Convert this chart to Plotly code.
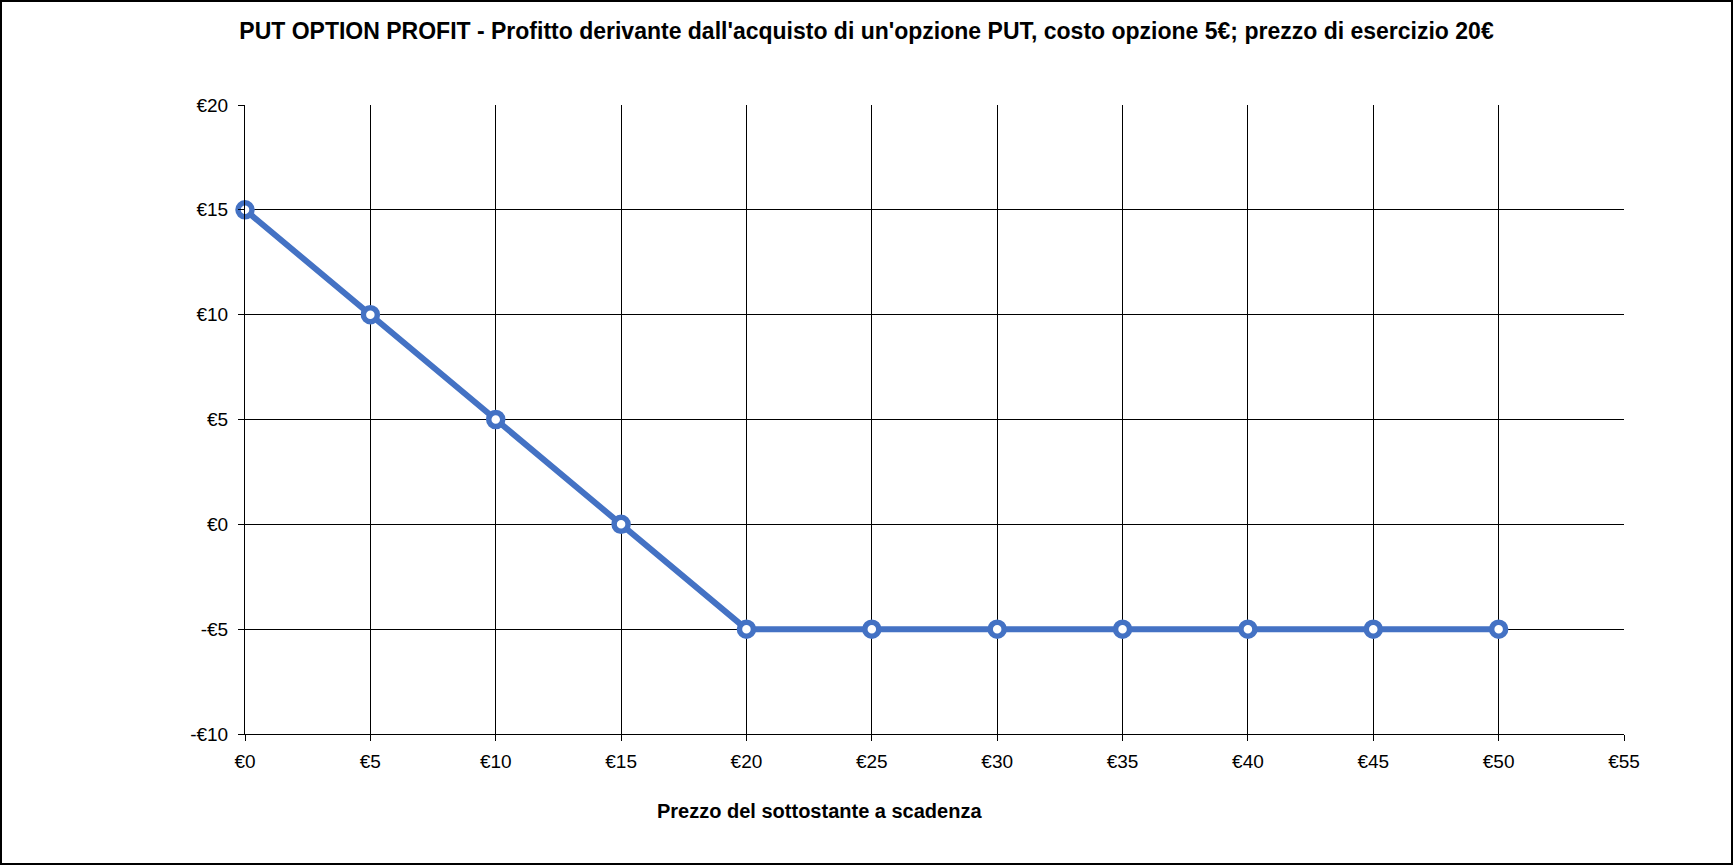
import plotly.graph_objects as go

# prezzo del sottostante a scadenza (euro)
prezzi = [0, 5, 10, 15, 20, 25, 30, 35, 40, 45, 50]
# profitto dell'opzione put
profitto = [15, 10, 5, 0, -5, -5, -5, -5, -5, -5, -5]

x_ticks = [0, 5, 10, 15, 20, 25, 30, 35, 40, 45, 50, 55]
x_labels = ['€0', '€5', '€10', '€15', '€20', '€25', '€30', '€35', '€40', '€45', '€50', '€55']
y_ticks = [-10, -5, 0, 5, 10, 15, 20]
y_labels = ['-€10', '-€5', '€0', '€5', '€10', '€15', '€20']

W, H = 1733, 865
ML, MR, MT, MB = 245, 109, 105, 131

fig = go.Figure()
fig.add_trace(go.Scatter(
    x=prezzi, y=profitto, mode='lines+markers',
    line=dict(color='#4472C4', width=6),
    marker=dict(symbol='circle', size=14, color='white',
                line=dict(color='#4472C4', width=5.5)),
    showlegend=False, cliponaxis=False,
))

axis_common = dict(
    showgrid=True, gridcolor='black', gridwidth=1,
    showline=True, linecolor='black', linewidth=1,
    ticks='outside', ticklen=6, tickcolor='black',
    zeroline=False, tickfont=dict(family='Liberation Sans, Arial', size=19, color='black'),
)

fig.update_xaxes(range=[0, 55], tickvals=x_ticks, ticktext=x_labels,
                 ticklabelstandoff=4, **axis_common)
fig.update_yaxes(range=[-10, 20], tickvals=y_ticks, ticktext=y_labels,
                 ticklabelstandoff=6, **axis_common)

pw = W - ML - MR
ph = H - MT - MB

fig.update_layout(
    width=W, height=H,
    margin=dict(l=ML, r=MR, t=MT, b=MB),
    paper_bgcolor='white', plot_bgcolor='white',
    font=dict(family='Liberation Sans, Arial', color='black'),
    title=dict(
        text="<b>PUT OPTION PROFIT - Profitto derivante dall'acquisto di un'opzione PUT, costo opzione 5€; prezzo di esercizio 20€</b>",
        x=0.5, xanchor='center', y=1 - 31 / H, yanchor='middle',
        font=dict(size=23, color='black'),
    ),
    annotations=[dict(
        text='<b>Prezzo del sottostante a scadenza</b>',
        xref='paper', yref='paper',
        x=(819 - ML) / pw, y=-(811 - (H - MB)) / ph,
        xanchor='center', yanchor='middle', showarrow=False,
        font=dict(size=20, color='black'),
    )],
    shapes=[dict(
        type='rect', xref='paper', yref='paper',
        x0=-(ML - 1) / pw, x1=1 + (MR - 1) / pw,
        y0=-(MB - 1) / ph, y1=1 + (MT - 1) / ph,
        line=dict(color='black', width=2), fillcolor='rgba(0,0,0,0)',
    )],
)

fig.write_html('out.html', config={'displayModeBar': False},
               post_script="document.body.style.margin='0';document.body.style.overflow='hidden';")
